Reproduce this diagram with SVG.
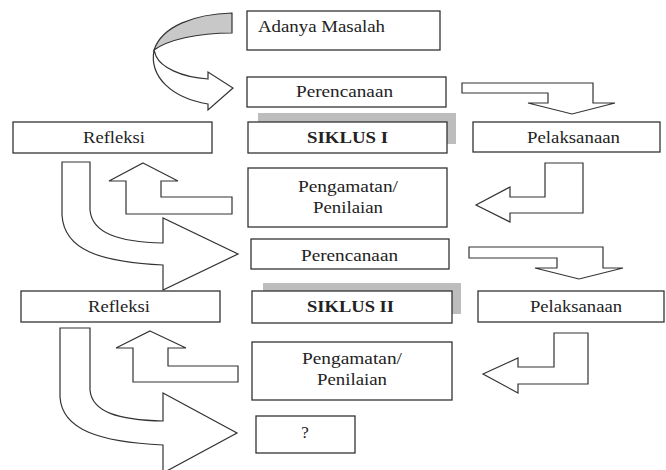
<svg xmlns="http://www.w3.org/2000/svg" width="666" height="470" viewBox="0 0 666 470">
<style>
.box{fill:#fff;stroke:#333;stroke-width:1.3}
.shadow{fill:#bdbdbd;stroke:none}
.arr{fill:#fff;stroke:#333;stroke-width:1.2;stroke-linejoin:miter}
.arrg{fill:#c8c8c8;stroke:#333;stroke-width:1.2}
.t{font-family:'Liberation Serif','DejaVu Serif',serif;font-size:17px;fill:#222}
.c{text-anchor:middle}
.b{font-weight:bold}
</style>
<rect width="666" height="470" fill="#fff"/>
<g id="connectors">
<path class="arrg" d="M232,13 C195,14 162,26 154,50 C168,40 196,33 232,33 Z"/>
<path class="arr" d="M154,50 C149,77 172,98 208,104 L208,110 L233,88 L208,72 L208,79 C180,77 161,67 156,56 Z"/>
<polygon class="arr" points="462,83 593,83 593,103 615,103 572,114 528,103 548,103 548,93 462,93"/>
<polygon class="arr" points="545,163 583,163 583,213 510,213 510,222 476,205 510,187 510,197 545,197"/>
<polygon class="arr" points="143,163 178,181 161,181 161,197 232,197 232,214 126,214 126,181 109,181"/>
<path class="arr" d="M62,162 L90,162 L90,210 C92,233 118,242 163,243 L163,218 L238,254 L163,290 L163,265 C100,262 64,250 62,215 Z"/>
<polygon class="arr" points="469,247 603,247 603,268 623,268 579,279 535,268 557,268 557,258 469,258"/>
<polygon class="arr" points="554,333 588,333 588,384 518,384 518,393 483,374 518,358 518,367 554,367"/>
<polygon class="arr" points="150,331 186,348 168,348 168,366 238,366 238,382 133,382 133,348 116,348"/>
<path class="arr" d="M60,328 L90,328 L90,390 C92,412 118,420 163,421 L163,393 L237,433 L163,473 L163,445 C100,442 62,430 60,397 Z"/>
</g>
<g id="n-masalah">
<rect class="box" x="247" y="11" width="193" height="39"/>
<text class="t" x="258" y="32" textLength="127" lengthAdjust="spacingAndGlyphs">Adanya Masalah</text>
</g>
<g id="n-perencanaan1">
<rect class="box" x="247" y="77" width="199" height="30"/>
<text class="t c" x="344.5" y="97" textLength="97" lengthAdjust="spacingAndGlyphs">Perencanaan</text>
</g>
<g id="n-siklus1">
<rect class="shadow" x="258" y="113" width="198" height="31"/>
<rect class="box" x="248" y="122" width="199" height="31"/>
<text class="t c b" x="347.5" y="143" textLength="81" lengthAdjust="spacingAndGlyphs">SIKLUS I</text>
</g>
<g id="n-refleksi1">
<rect class="box" x="13" y="122" width="199" height="31"/>
<text class="t c" x="114" y="143" textLength="62" lengthAdjust="spacingAndGlyphs">Refleksi</text>
</g>
<g id="n-pelaksanaan1">
<rect class="box" x="473" y="122" width="187" height="30"/>
<text class="t c" x="573.5" y="143" textLength="93" lengthAdjust="spacingAndGlyphs">Pelaksanaan</text>
</g>
<g id="n-pengamatan1">
<rect class="box" x="248" y="168" width="199" height="59"/>
<text class="t c" x="348" y="192" textLength="100" lengthAdjust="spacingAndGlyphs">Pengamatan/</text>
<text class="t c" x="348" y="213" textLength="70" lengthAdjust="spacingAndGlyphs">Penilaian</text>
</g>
<g id="n-perencanaan2">
<rect class="box" x="251" y="239" width="198" height="30"/>
<text class="t c" x="349.5" y="261" textLength="97" lengthAdjust="spacingAndGlyphs">Perencanaan</text>
</g>
<g id="n-siklus2">
<rect class="shadow" x="263" y="283" width="198" height="31"/>
<rect class="box" x="252" y="291" width="200" height="32"/>
<text class="t c b" x="350.5" y="312" textLength="87" lengthAdjust="spacingAndGlyphs">SIKLUS II</text>
</g>
<g id="n-refleksi2">
<rect class="box" x="21" y="291" width="199" height="31"/>
<text class="t c" x="119" y="312" textLength="62" lengthAdjust="spacingAndGlyphs">Refleksi</text>
</g>
<g id="n-pelaksanaan2">
<rect class="box" x="478" y="291" width="186" height="31"/>
<text class="t c" x="576" y="312" textLength="92" lengthAdjust="spacingAndGlyphs">Pelaksanaan</text>
</g>
<g id="n-pengamatan2">
<rect class="box" x="252" y="342" width="200" height="58"/>
<text class="t c" x="352" y="364" textLength="100" lengthAdjust="spacingAndGlyphs">Pengamatan/</text>
<text class="t c" x="352" y="385" textLength="70" lengthAdjust="spacingAndGlyphs">Penilaian</text>
</g>
<g id="n-tanya">
<rect class="box" x="256" y="416" width="99" height="37"/>
<text class="t c" x="305" y="438">?</text>
</g>
</svg>
